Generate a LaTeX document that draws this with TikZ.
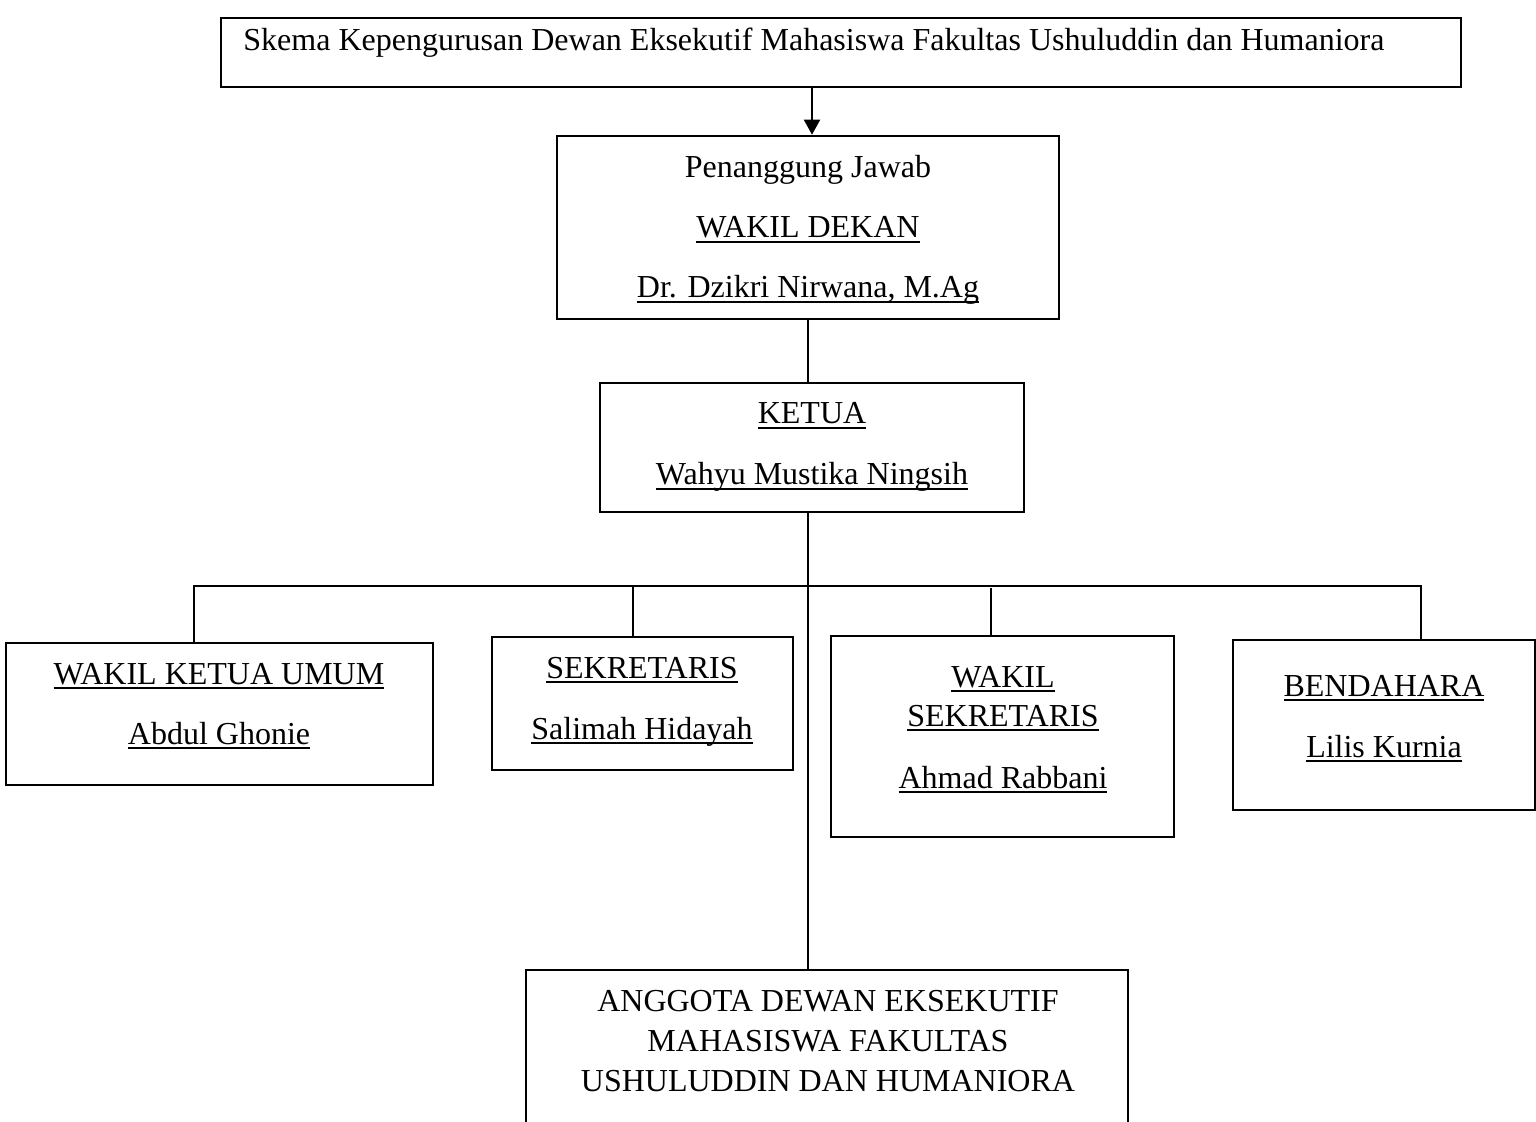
\documentclass[tikz,border=0pt]{standalone}
\usepackage{fontspec}
\setmainfont{Liberation Serif}
\usetikzlibrary{arrows.meta}
\newcommand\ulx[1]{\begingroup\setbox0\hbox{#1}\leavevmode\rlap{\rule[-2.3pt]{\wd0}{0.9pt}}\box0\endgroup}
\begin{document}
\begin{tikzpicture}[x=0.5pt,y=-0.5pt,
  box/.style={draw,line width=1.3pt,inner sep=0pt},
  lbl/.style={anchor=base,inner sep=0pt,font=\fontsize{16}{19.5}\selectfont},
  conn/.style={line width=0.55pt},
  arrowline/.style={line width=1pt,-{Triangle[width=8pt,length=7.5pt]}}]
\useasboundingbox (0,0) rectangle (1536,1122);
% boxes
\node[box,minimum width=620pt,minimum height=34.5pt] (title) at (841,52.5) {};
\node[box,minimum width=251pt,minimum height=91.5pt] (pj) at (808,227.5) {};
\node[box,minimum width=212pt,minimum height=64.5pt] (ketua) at (812,447.5) {};
\node[box,minimum width=213.5pt,minimum height=71pt] (wku) at (219.5,714) {};
\node[box,minimum width=150.5pt,minimum height=66.5pt] (sek) at (642.5,703.5) {};
\node[box,minimum width=171.5pt,minimum height=100.5pt] (wsek) at (1002.5,736.5) {};
\node[box,minimum width=151pt,minimum height=85pt] (bend) at (1384,725) {};
\node[box,minimum width=301pt,minimum height=85pt] (ang) at (827,1055) {};
% texts
\node[lbl,anchor=base west] (ttitle) at (243,51) {Skema Kepengurusan Dewan Eksekutif Mahasiswa Fakultas Ushuluddin dan Humaniora};
\node[lbl] (tpj1) at (808,178) {Penanggung Jawab};
\node[lbl] (tpj2) at (808,238) {\ulx{WAKIL DEKAN}};
\node[lbl] (tpj3) at (808,298) {\ulx{Dr. Dzikri Nirwana, M.Ag}};
\node[lbl] (tk1) at (812,424) {\ulx{KETUA}};
\node[lbl] (tk2) at (812,485) {\ulx{Wahyu Mustika Ningsih}};
\node[lbl] (tw1) at (219,684) {\ulx{WAKIL KETUA UMUM}};
\node[lbl] (tw2) at (219,744) {\ulx{Abdul Ghonie}};
\node[lbl] (ts1) at (642,678) {\ulx{SEKRETARIS}};
\node[lbl] (ts2) at (642,739) {\ulx{Salimah Hidayah}};
\node[lbl] (tws1) at (1003,687) {\ulx{WAKIL}};
\node[lbl] (tws2) at (1003,726) {\ulx{SEKRETARIS}};
\node[lbl] (tws3) at (1003,788) {\ulx{Ahmad Rabbani}};
\node[lbl] (tb1) at (1384,696) {\ulx{BENDAHARA}};
\node[lbl] (tb2) at (1384,757) {\ulx{Lilis Kurnia}};
\node[lbl] (ta1) at (828,1011) {ANGGOTA DEWAN EKSEKUTIF};
\node[lbl] (ta2) at (828,1051) {MAHASISWA FAKULTAS};
\node[lbl] (ta3) at (828,1091) {USHULUDDIN DAN HUMANIORA};
% connectors
\draw[arrowline] (title.south -| ketua.north) -- (pj.north -| ketua.north);
\draw[conn] (pj.south) -- (pj.south |- ketua.north);
\draw[conn] (pj.south |- ketua.south) -- (pj.south |- ang.north);
\coordinate (busL) at (194,586);
\coordinate (busS) at (633,586);
\coordinate (busW) at (991,588);
\coordinate (busR) at (1421,586);
\draw[conn] (wku.north -| busL) -- (busL) -- (busR) -- (bend.north -| busR);
\draw[conn] (busS) -- (sek.north -| busS);
\draw[conn] (busW) -- (wsek.north -| busW);
\end{tikzpicture}
\end{document}
